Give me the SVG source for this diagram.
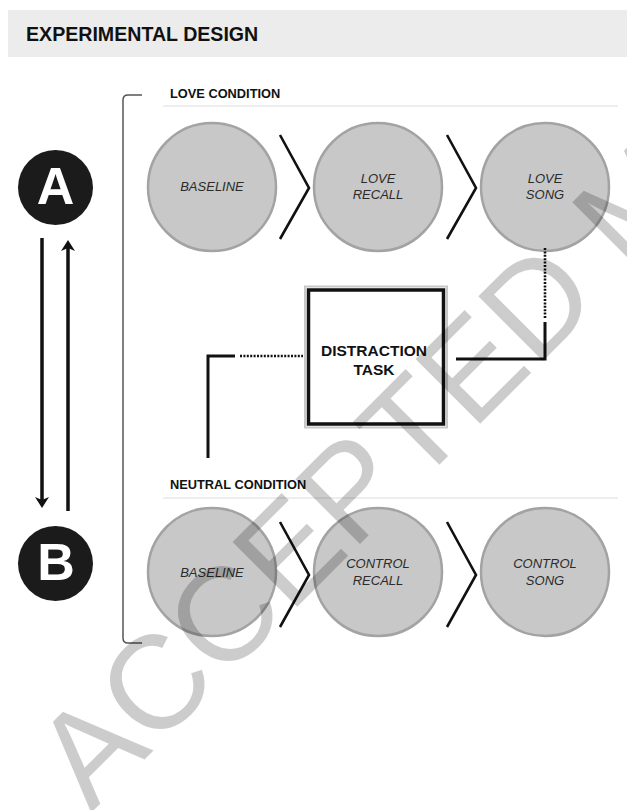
<svg xmlns="http://www.w3.org/2000/svg" width="627" height="810" viewBox="0 0 627 810">
<defs>
<style>
.hdr{font-family:"Liberation Sans",Arial,Helvetica,sans-serif;font-weight:bold;fill:#111}
.cond{font-family:"Liberation Sans",Arial,Helvetica,sans-serif;font-weight:bold;font-size:12.8px;fill:#111}
.step circle{fill:#c8c8c8;stroke:#a3a3a3;stroke-width:2.5}
.step text{font-family:"Liberation Sans",Arial,Helvetica,sans-serif;font-style:italic;font-size:13px;fill:#2b2b2b;text-anchor:middle}
.chev{fill:none;stroke:#111;stroke-width:2.6}
.conn{fill:none;stroke:#111;stroke-width:3}
.dot{fill:none;stroke:#111;stroke-width:2.6;stroke-dasharray:2 1.4}
.arrow{fill:none;stroke:#111;stroke-width:3.5}
.rule{stroke:#dcdcdc;stroke-width:1}
.badge circle{fill:#1b1b1b}
.badge text{font-family:"Liberation Sans",Arial,Helvetica,sans-serif;font-weight:bold;font-size:52px;fill:#fff;text-anchor:middle}
.task text{font-family:"Liberation Sans",Arial,Helvetica,sans-serif;font-weight:bold;font-size:15.5px;fill:#111;text-anchor:middle}
.wm{font-family:"Liberation Sans",Arial,Helvetica,sans-serif;font-size:133px;fill:#000;fill-opacity:0.2}
</style>
<marker id="ah" viewBox="-8 -8 13 16" refX="0" refY="0" markerWidth="13" markerHeight="16" markerUnits="userSpaceOnUse" orient="auto">
<path d="M4,0 L-7,-7 L-4,0 L-7,7 Z" fill="#111"/>
</marker>
</defs>

<g id="header">
<rect x="8" y="10" width="619" height="47" fill="#ececec"/>
<text class="hdr" x="26" y="41" font-size="19.6">EXPERIMENTAL DESIGN</text>
</g>

<g id="bracket">
<path d="M142,95 H128 Q123,95 123,100 V638 Q123,643 128,643 H142" fill="none" stroke="#555" stroke-width="1.5"/>
</g>

<g id="love-condition">
<text class="cond" x="170" y="98">LOVE CONDITION</text>
<line class="rule" x1="163" y1="106" x2="618" y2="106"/>
</g>
<g id="neutral-condition">
<text class="cond" x="170" y="489">NEUTRAL CONDITION</text>
<line class="rule" x1="163" y1="498" x2="618" y2="498"/>
</g>

<g id="node-A" class="badge">
<circle cx="55.5" cy="187.5" r="37.5"/>
<text x="55.5" y="204">A</text>
</g>
<g id="node-B" class="badge">
<circle cx="55.5" cy="563.5" r="37.5"/>
<text x="56" y="580">B</text>
</g>

<g id="love-baseline" class="step">
<circle cx="212" cy="187" r="64"/>
<text x="212" y="191">BASELINE</text>
</g>
<g id="love-recall" class="step">
<circle cx="378" cy="187" r="64"/>
<text x="378" y="183">LOVE</text>
<text x="378" y="199">RECALL</text>
</g>
<g id="love-song" class="step">
<circle cx="545" cy="187" r="64"/>
<text x="545" y="183">LOVE</text>
<text x="545" y="199">SONG</text>
</g>

<g id="neutral-baseline" class="step">
<circle cx="212" cy="572" r="64"/>
<text x="212" y="577">BASELINE</text>
</g>
<g id="control-recall" class="step">
<circle cx="378" cy="572" r="64"/>
<text x="378" y="568">CONTROL</text>
<text x="378" y="585">RECALL</text>
</g>
<g id="control-song" class="step">
<circle cx="545" cy="572" r="64"/>
<text x="545" y="568">CONTROL</text>
<text x="545" y="585">SONG</text>
</g>

<g id="distraction-task" class="task">
<rect x="305" y="286.5" width="142" height="141" fill="none" stroke="#c8c8c8" stroke-width="2"/>
<rect x="308.5" y="290" width="135" height="134" fill="#fff" stroke="#111" stroke-width="3.5"/>
<text x="374" y="356">DISTRACTION</text>
<text x="374" y="375">TASK</text>
</g>

<g id="connectors">
<line class="arrow" x1="42" y1="238" x2="42" y2="504" marker-end="url(#ah)"/>
<line class="arrow" x1="68" y1="511" x2="68" y2="244" marker-end="url(#ah)"/>
<path class="chev" d="M280,135 L309,188 L280,239"/>
<path class="chev" d="M447,135 L476,188 L447,239"/>
<path class="chev" d="M280,522 L309,575 L280,627"/>
<path class="chev" d="M447,522 L476,575 L447,627"/>
<line class="dot" x1="545" y1="248" x2="545" y2="318"/>
<path class="conn" d="M545,322 V359 H456"/>
<line class="dot" x1="240" y1="356" x2="303" y2="356"/>
<path class="conn" d="M235,356 H208 V458"/>
</g>

<g id="watermark">
<text class="wm" transform="translate(91,813) rotate(-45)">ACCEPTED MANUSCRIPT</text>
</g>
</svg>
